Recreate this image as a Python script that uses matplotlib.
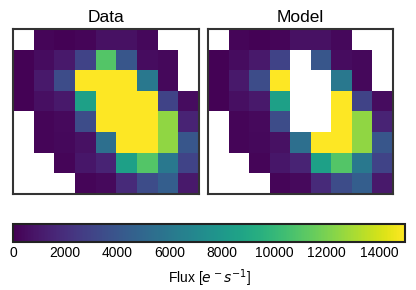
import numpy as np
import matplotlib.pyplot as plt

plt.rcParams['font.family'] = ['Liberation Sans', 'DejaVu Sans']

nan = np.nan

# flux per pixel, rows top to bottom
data_flux = np.array([
    [nan, 200, 100, 200, 700, 700, 300, nan, nan],
    [100, 500, 1000, 3000, 11000, 4000, 500, 300, nan],
    [100, 1000, 3500, 15000, 15000, 15000, 6000, 300, nan],
    [100, 600, 1000, 8500, 15000, 15000, 15000, 3000, 500],
    [nan, 200, 400, 3500, 15000, 15000, 15000, 12500, 1500],
    [nan, 200, 300, 700, 5500, 15000, 15000, 12500, 4000],
    [nan, nan, 200, 900, 1500, 8500, 11000, 6000, 3000],
    [nan, nan, nan, 200, 400, 1800, 3500, 4500, 1000],
])

model_flux = np.array([
    [nan, 200, 100, 200, 700, 700, 300, nan, nan],
    [100, 500, 1000, 3000, nan, 4000, 500, 300, nan],
    [100, 1000, 3500, 15000, nan, nan, 6000, 300, nan],
    [100, 600, 1000, 8500, nan, nan, 15000, 3000, 500],
    [nan, 200, 400, 3500, nan, nan, 15000, 12500, 1500],
    [nan, 200, 300, 700, 5500, 15000, 15000, 12500, 4000],
    [nan, nan, 200, 900, 1500, 8500, 11000, 6000, 3000],
    [nan, nan, nan, 200, 400, 1800, 3500, 4500, 1000],
])

titles = ['Data', 'Model']
vmin, vmax = 0, 15000

fig = plt.figure(figsize=(4.16, 2.9), dpi=100)
ax1 = fig.add_axes([13/416, 1 - 194/290, 186/416, 165/290])
ax2 = fig.add_axes([208/416, 1 - 194/290, 185/416, 165/290])
cax = fig.add_axes([13/416, 1 - 242/290, 392/416, 18/290])

for ax, img, title in zip([ax1, ax2], [data_flux, model_flux], titles):
    im = ax.imshow(img, cmap='viridis', vmin=vmin, vmax=vmax,
                   aspect='auto', interpolation='nearest')
    ax.set_title(title, fontsize=12.5, pad=5)
    ax.set_xticks([])
    ax.set_yticks([])
    for s in ax.spines.values():
        s.set_color('#333333')
        s.set_linewidth(1.5)

cb = fig.colorbar(im, cax=cax, orientation='horizontal')
cb.set_ticks(np.arange(0, 15000, 2000))
cb.ax.tick_params(labelsize=10, length=0, pad=3)
cb.outline.set_edgecolor('#222222')
cb.outline.set_linewidth(1.5)
cb.set_label(r'Flux [$e^- s^{-1}$]', fontsize=10, labelpad=5)

fig.savefig('out.png', dpi=100)
